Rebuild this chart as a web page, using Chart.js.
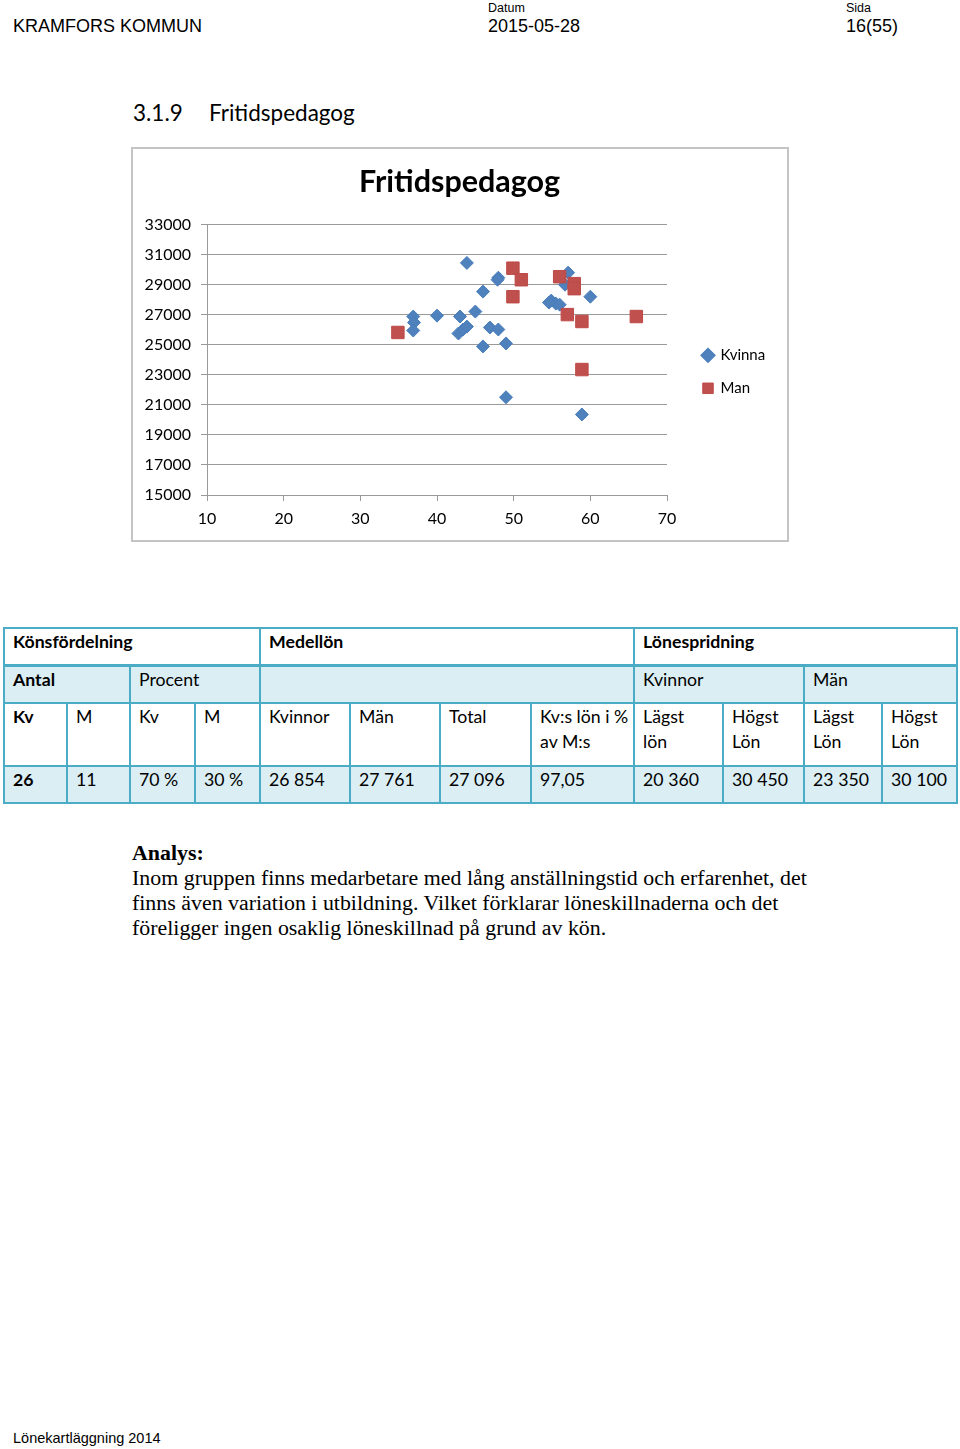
<!DOCTYPE html>
<html lang="sv">
<head>
<meta charset="utf-8">
<title>Fritidspedagog</title>
<script src="https://cdn.jsdelivr.net/npm/chart.js@4.4.1/dist/chart.umd.min.js"></script>
<style>
  body { margin: 0; background: #fff; }
  #sida { position: relative; width: 960px; height: 1449px; overflow: hidden; font-family: "Liberation Sans", Arial, sans-serif; color: #000; }
  .abs { position: absolute; white-space: nowrap; }
  .liten { font-size: 12.5px; line-height: 16px; }
  .stor { font-size: 18px; line-height: 22px; }
  .rubrik { font-family: Lato, sans-serif; font-size: 22.5px; line-height: 26px; }
  #ram { position: absolute; left: 131px; top: 147px; width: 658px; height: 395px; box-sizing: border-box; border: 2px solid #c4c4c4; }
  #diagram { position: absolute; left: 133px; top: 149px; width: 653px; height: 390px; }
  #tabell { position: absolute; left: 3px; top: 627px; border-collapse: collapse; table-layout: fixed; width: 953px; font-family: Lato, sans-serif; font-size: 17.7px; }
  #tabell td { border: 2px solid #4bacc6; padding: 0 0 0 8px; vertical-align: top; line-height: 25px; white-space: nowrap; overflow: hidden; }
  #tabell tr.bla td { background: #daeef3; }
  #tabell tr.forsta td { border-bottom-width: 3px; }
  #analys { position: absolute; left: 132px; top: 840px; font-family: "Liberation Serif", "Times New Roman", serif; font-size: 21.9px; line-height: 25px; white-space: nowrap; }
</style>
</head>
<body>
<div id="sida">
  <div class="abs stor" style="left:13px; top:15px;">KRAMFORS KOMMUN</div>
  <div class="abs liten" style="left:488px; top:0px;">Datum</div>
  <div class="abs stor" style="left:488px; top:15px;">2015-05-28</div>
  <div class="abs liten" style="left:846px; top:0px;">Sida</div>
  <div class="abs stor" style="left:846px; top:15px;">16(55)</div>

  <div class="abs rubrik" style="left:133px; top:100px;">3.1.9</div>
  <div class="abs rubrik" style="left:209px; top:100px;">Fritidspedagog</div>

  <div id="ram"></div>
  <div id="diagram"><canvas id="myChart" width="653" height="390"></canvas></div>

  <table id="tabell">
    <colgroup id="kolumner"></colgroup>
    <tbody id="rader"></tbody>
  </table>

  <div id="analys"><b>Analys:</b><br>Inom gruppen finns medarbetare med lång anställningstid och erfarenhet, det<br>finns även variation i utbildning. Vilket förklarar löneskillnaderna och det<br>föreligger ingen osaklig löneskillnad på grund av kön.</div>

  <div class="abs" style="left:13px; top:1429px; font-size:14.5px; line-height:18px;">Lönekartläggning 2014</div>
</div>

<script>
// Värden (ålder, månadslön)
const kvinnaAlder = [43.9, 48.0, 47.9, 46.0, 45.0, 40.0, 36.9, 43.0, 37.0, 36.9, 42.8, 43.4, 43.9,
                     46.9, 48.0, 46.0, 49.0, 49.0, 57.1, 56.7, 60.0, 54.9, 55.5, 56.0, 58.9, 54.6];
const kvinnaLon = [30450, 29465, 29330, 28540, 27210, 26940, 26880, 26880, 26480, 25950, 25750, 26015, 26210,
                   26150, 26015, 24890, 25090, 21505, 29800, 29000, 28200, 27940, 27740, 27670, 20360, 27810];
const manAlder = [34.9, 49.9, 51.0, 49.9, 56.0, 57.9, 57.9, 57.0, 58.9, 66.0, 58.9];
const manLon = [25820, 30100, 29330, 28200, 29530, 29070, 28735, 27010, 26550, 26880, 23350];

const xTicks = [10, 20, 30, 40, 50, 60, 70];
const yTicks = [15000, 17000, 19000, 21000, 23000, 25000, 27000, 29000, 31000, 33000];

// Tabellens innehåll
const kolumnBredd = [63, 63, 65, 65, 90, 90, 91, 103, 89, 81, 78, 75];
const rad1 = [["Könsfördelning", 4], ["Medellön", 4], ["Lönespridning", 4]];
const rad2 = [["<b>Antal</b>", 2], ["Procent", 2], ["", 4], ["Kvinnor", 2], ["Män", 2]];
const rad3 = ["<b>Kv</b>", "M", "Kv", "M", "Kvinnor", "Män", "Total", "Kv:s lön i %<br>av M:s",
              "Lägst<br>lön", "Högst<br>Lön", "Lägst<br>Lön", "Högst<br>Lön"];
const rad4 = ["<b>26</b>", "11", "70 %", "30 %", "26 854", "27 761", "27 096", "97,05",
              "20 360", "30 450", "23 350", "30 100"];

const kolumner = document.querySelector("#kolumner");
kolumnBredd.forEach(b => { kolumner.innerHTML += `<col style="width:${b}px">`; });

const rader = document.querySelector("#rader");
rader.innerHTML =
  `<tr class="forsta" style="height:37px">${rad1.map(c => `<td colspan="${c[1]}"><b>${c[0]}</b></td>`).join("")}</tr>` +
  `<tr class="bla" style="height:38px">${rad2.map(c => `<td colspan="${c[1]}">${c[0]}</td>`).join("")}</tr>` +
  `<tr style="height:63px">${rad3.map(c => `<td>${c}</td>`).join("")}</tr>` +
  `<tr class="bla" style="height:37px">${rad4.map(c => `<td>${c}</td>`).join("")}</tr>`;

// Flyttar förklaringen och centrerar rubriken över hela ramen
const flyttaForklaring = {
  id: "flyttaForklaring",
  afterLayout(chart) {
    const l = chart.legend;
    l.left += 18; l.right += 18;
    l.top += 12; l.bottom += 12;
    const t = chart.titleBlock;
    t.left = 0; t.right = chart.width;
  }
};

const typsnitt = { family: "Lato", size: 16 };
const gra = "#9a9a9a";

const ctx = document.getElementById("myChart").getContext("2d");
new Chart(ctx, {
  type: "scatter",
  data: {
    datasets: [
      {
        label: "Kvinna",
        data: kvinnaAlder.map((a, i) => ({ x: a, y: kvinnaLon[i] })),
        pointStyle: "rectRot",
        pointRadius: 6.5,
        backgroundColor: "#4f81bd",
        borderColor: "#4a7ebb",
        borderWidth: 1,
        order: 1,
      },
      {
        label: "Man",
        data: manAlder.map((a, i) => ({ x: a, y: manLon[i] })),
        pointStyle: "rect",
        pointRadius: 8.8,
        backgroundColor: "#c0504d",
        borderColor: "#be4b48",
        borderWidth: 1,
        order: 0,
      },
    ],
  },
  options: {
    responsive: false,
    animation: false,
    layout: { padding: { left: 0, right: 39, top: 0, bottom: 0 } },
    plugins: {
      title: {
        display: true,
        text: "Fritidspedagog",
        color: "#000",
        font: { family: "Lato", size: 30.5, weight: "bold", lineHeight: 1.2 },
        padding: { top: 15, bottom: 24 },
      },
      legend: {
        position: "right",
        fullSize: false,
        maxWidth: 80,
        labels: {
          usePointStyle: true,
          boxWidth: 10,
          boxHeight: 10.5,
          padding: 18,
          color: "#000",
          font: { family: "Lato", size: 15 },
          sort: (a, b) => a.datasetIndex - b.datasetIndex,
        },
      },
      tooltip: { enabled: false },
    },
    scales: {
      x: {
        type: "linear",
        min: 10,
        max: 70,
        afterBuildTicks: s => { s.ticks = xTicks.map(v => ({ value: v })); },
        afterFit: s => { s.height = 44; },
        grid: { drawOnChartArea: false, drawTicks: true, tickLength: 6, color: gra },
        border: { display: true, color: gra },
        ticks: { padding: 8, color: "#000", font: typsnitt, maxRotation: 0, callback: v => String(v) },
      },
      y: {
        min: 15000,
        max: 33000,
        afterBuildTicks: s => { s.ticks = yTicks.map(v => ({ value: v })); },
        afterFit: s => { s.width = 74; },
        grid: { color: gra, tickLength: 6 },
        border: { display: true, color: gra },
        ticks: { padding: 10, color: "#000", font: typsnitt, callback: v => String(v) },
      },
    },
  },
  plugins: [flyttaForklaring],
});
</script>
</body>
</html>
